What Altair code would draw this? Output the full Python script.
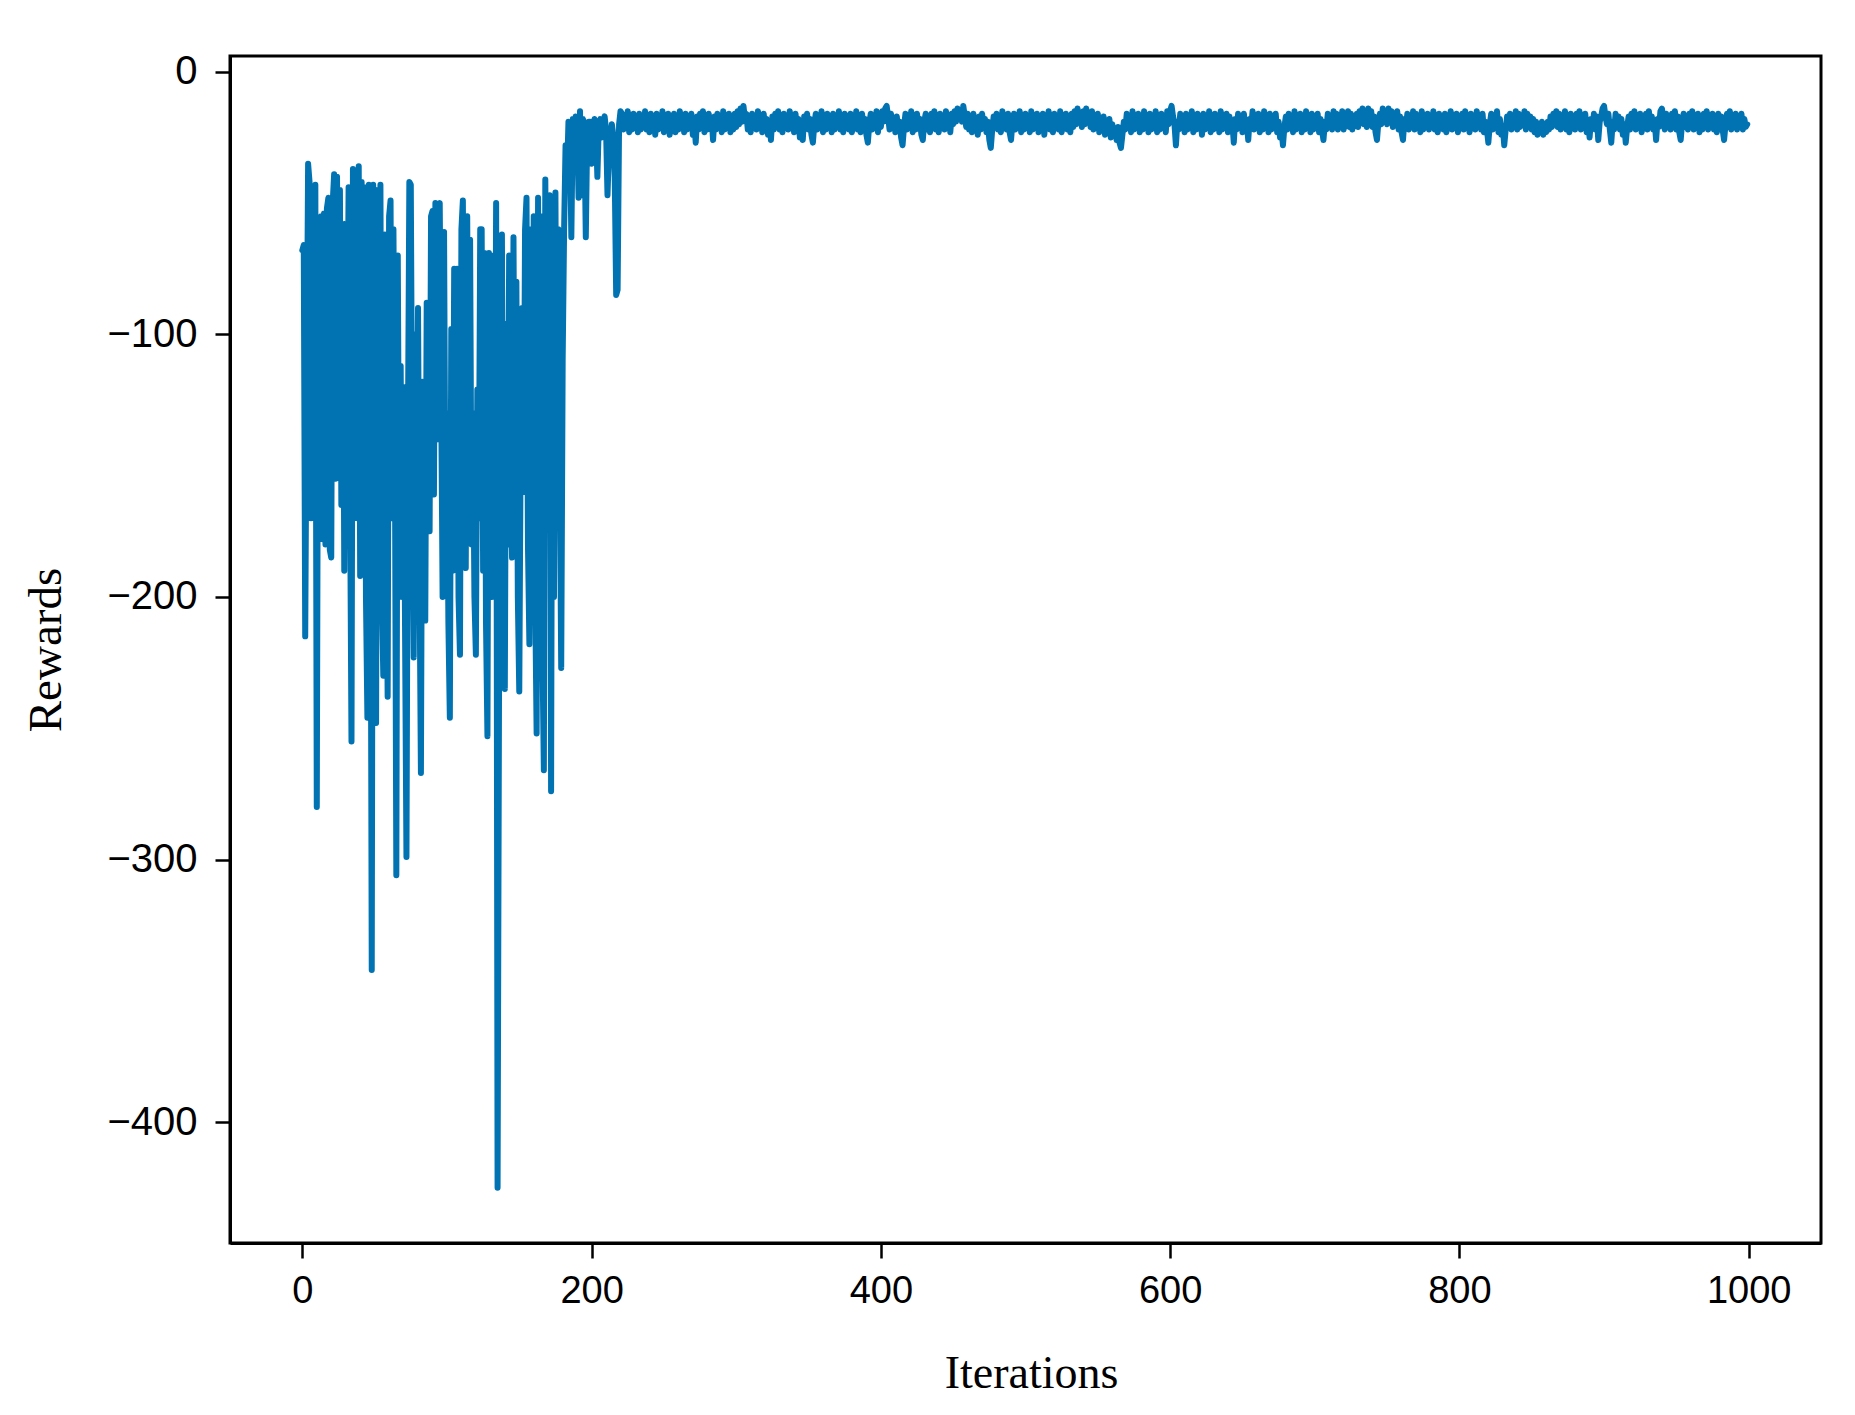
import altair as alt
import pandas as pd

# Rewards, iterations 0..220 (unstable phase)
rewards_0_220 = [
    -68, -66, -215, -120, -35, -42, -170, -60, -150, -43,
    -280, -81, -175, -55, -178, -54, -180, -52, -48, -182,
    -185, -50, -39, -155, -40, -140, -45, -165, -58, -190,
    -58, -120, -44, -160, -255, -37, -150, -38, -170, -36,
    -192, -42, -130, -44, -200, -246, -43, -120, -342, -43,
    -180, -248, -45, -160, -43, -200, -230, -62, -150, -238,
    -55, -49, -170, -60, -140, -306, -70, -180, -112, -200,
    -120, -210, -299, -140, -42, -43, -150, -223, -100, -170,
    -90, -190, -267, -118, -150, -209, -88, -160, -175, -55,
    -53, -161, -50, -140, -51, -50, -123, -200, -61, -180,
    -130, -210, -246, -98, -190, -75, -170, -75, -200, -222,
    -60, -49, -150, -189, -55, -160, -64, -180, -130, -200,
    -222, -121, -170, -60, -60, -190, -69, -210, -253, -69,
    -160, -200, -70, -180, -50, -425, -235, -140, -62, -200,
    -235, -96, -180, -70, -150, -185, -63, -170, -80, -200,
    -236, -137, -90, -160, -60, -48, -180, -218, -60, -150,
    -55, -200, -252, -48, -170, -55, -220, -266, -41, -130,
    -60, -47, -274, -50, -200, -46, -170, -60, -150, -227,
    -110, -60, -28, -40, -19, -22, -63, -18, -25, -17,
    -20, -48, -15, -47, -18, -20, -63, -22, -19, -19,
    -35, -22, -18, -21, -40, -20, -18, -25, -19, -17,
    -22, -47, -30, -27, -20, -24, -40, -85, -83, -20,
    -15,
]

# iterations 221..299
rewards_221_299 = [
    -16, -22, -17, -21, -15, -23, -18, -22, -16, -21,
    -17, -23, -16, -22, -18, -21, -15, -22, -17, -23,
    -16, -21, -18, -24, -16, -22, -17, -21, -15, -23,
    -18, -22, -16, -24, -17, -21, -16, -23, -18, -22,
    -15, -21, -17, -23, -16, -22, -18, -21, -16, -24,
    -19, -27, -17, -22, -16, -21, -15, -23, -17, -22,
    -16, -21, -18, -26, -17, -22, -16, -21, -18, -23,
    -15, -22, -17, -21, -16, -23, -18, -22, -16,
]

rewards_300_399 = [
    -21, -15, -20, -14, -19, -13, -18, -16, -22, -17,
    -23, -16, -21, -18, -22, -15, -21, -17, -23, -16,
    -22, -18, -24, -19, -26, -17, -22, -16, -21, -15,
    -22, -17, -23, -16, -21, -18, -22, -15, -21, -17,
    -23, -16, -22, -18, -25, -19, -26, -17, -21, -16,
    -22, -18, -24, -27, -20, -16, -22, -17, -21, -15,
    -23, -17, -22, -16, -21, -18, -23, -16, -22, -17,
    -21, -15, -22, -18, -23, -16, -21, -17, -22, -16,
    -23, -18, -21, -15, -22, -17, -23, -16, -21, -18,
    -24, -27, -20, -16, -22, -17, -21, -15, -23, -17,
]

rewards_400_499 = [
    -21, -15, -19, -14, -13, -17, -22, -16, -21, -18,
    -23, -17, -22, -19, -25, -28, -21, -16, -22, -17,
    -21, -15, -23, -17, -22, -16, -21, -18, -24, -26,
    -19, -16, -22, -17, -23, -16, -21, -15, -22, -18,
    -23, -16, -21, -17, -22, -15, -21, -18, -23, -16,
    -20, -15, -19, -14, -18, -15, -19, -13, -17, -21,
    -16, -22, -17, -23, -16, -21, -18, -24, -17, -22,
    -16, -21, -18, -23, -19, -26, -29, -22, -17, -21,
    -16, -22, -17, -23, -15, -21, -18, -22, -16, -23,
    -26, -19, -16, -22, -17, -21, -15, -23, -18, -22,
]

rewards_500_599 = [
    -16, -21, -17, -23, -15, -22, -18, -21, -16, -23,
    -17, -22, -16, -24, -18, -21, -15, -22, -17, -23,
    -16, -21, -18, -22, -15, -23, -17, -21, -16, -22,
    -18, -23, -16, -21, -15, -20, -14, -19, -16, -21,
    -15, -20, -14, -19, -16, -21, -15, -22, -17, -21,
    -16, -23, -18, -22, -17, -24, -19, -23, -18, -25,
    -20, -24, -22, -26, -21, -27, -29, -24, -19, -22,
    -16, -21, -17, -23, -15, -22, -18, -21, -16, -23,
    -17, -22, -15, -21, -18, -23, -16, -22, -17, -21,
    -15, -23, -18, -22, -16, -21, -17, -23, -15, -20,
]

rewards_600_699 = [
    -15, -13, -17, -20, -28, -19, -22, -16, -21, -17,
    -23, -16, -22, -18, -21, -15, -23, -17, -22, -16,
    -21, -18, -24, -16, -22, -17, -21, -15, -23, -18,
    -22, -16, -21, -17, -23, -15, -22, -18, -21, -16,
    -23, -17, -22, -19, -27, -18, -22, -16, -21, -17,
    -23, -16, -22, -19, -26, -18, -21, -15, -22, -17,
    -21, -16, -23, -18, -22, -15, -21, -17, -23, -16,
    -22, -18, -21, -16, -23, -19, -25, -22, -28, -21,
    -17, -22, -16, -21, -18, -23, -15, -22, -17, -21,
    -16, -23, -18, -22, -15, -21, -17, -23, -16, -22,
]

rewards_700_799 = [
    -17, -21, -16, -23, -18, -22, -26, -19, -22, -16,
    -21, -17, -22, -15, -20, -16, -22, -17, -21, -15,
    -22, -17, -20, -15, -21, -16, -22, -17, -20, -16,
    -21, -15, -19, -14, -20, -16, -21, -14, -18, -15,
    -21, -17, -23, -26, -19, -16, -20, -14, -19, -16,
    -20, -14, -18, -15, -21, -16, -20, -15, -22, -17,
    -23, -26, -18, -21, -16, -22, -17, -21, -15, -22,
    -16, -21, -17, -23, -15, -22, -18, -21, -16, -22,
    -17, -21, -15, -22, -18, -23, -16, -21, -17, -22,
    -16, -23, -18, -21, -15, -22, -17, -21, -16, -23,
]

rewards_800_899 = [
    -17, -21, -16, -22, -15, -21, -18, -23, -16, -21,
    -17, -22, -15, -21, -18, -22, -16, -23, -19, -22,
    -27, -20, -16, -22, -17, -21, -15, -23, -18, -24,
    -21, -28, -22, -17, -21, -16, -22, -17, -21, -15,
    -22, -16, -21, -17, -20, -15, -22, -16, -21, -17,
    -22, -18, -23, -19, -24, -20, -23, -19, -24, -20,
    -23, -19, -22, -17, -21, -16, -20, -15, -21, -16,
    -22, -17, -21, -15, -22, -18, -23, -16, -21, -17,
    -22, -16, -21, -15, -22, -18, -21, -16, -23, -19,
    -25, -18, -21, -16, -22, -17, -26, -19, -17, -14,
]

rewards_900_999 = [
    -13, -17, -20, -16, -22, -27, -19, -22, -16, -21,
    -17, -22, -18, -24, -20, -27, -21, -17, -22, -16,
    -21, -15, -22, -17, -21, -16, -23, -17, -21, -16,
    -22, -15, -21, -17, -22, -19, -26, -18, -21, -15,
    -14, -18, -22, -16, -21, -17, -22, -16, -21, -15,
    -22, -17, -23, -26, -19, -16, -21, -17, -22, -16,
    -21, -15, -22, -17, -21, -16, -23, -17, -22, -16,
    -21, -15, -22, -18, -21, -16, -22, -17, -23, -16,
    -21, -17, -22, -26, -20, -16, -21, -15, -22, -17,
    -21, -16, -22, -17, -21, -16, -22, -18, -21, -20,
]

x_ticks = [0, 200, 400, 600, 800, 1000]
y_ticks = [0, -100, -200, -300, -400]

rewards = (rewards_0_220 + rewards_221_299 + rewards_300_399 + rewards_400_499
           + rewards_500_599 + rewards_600_699 + rewards_700_799
           + rewards_800_899 + rewards_900_999)
iterations = list(range(len(rewards)))

df = pd.DataFrame({"Iterations": iterations, "Rewards": rewards})

W, H = 1591, 1187

chart = alt.Chart(df).mark_line(
    color="#0173B2", strokeWidth=6, strokeCap="round", strokeJoin="round"
).encode(
    x=alt.X("Iterations:Q",
            scale=alt.Scale(domain=[-50, 1050], nice=False, zero=False),
            axis=alt.Axis(values=x_ticks, format="d", title="Iterations", grid=False,
                          tickSize=15, tickWidth=2.5, tickColor="black",
                          domainColor="black", domainWidth=3,
                          labelFont="Liberation Sans", labelFontSize=38,
                          labelColor="black", labelPadding=14,
                          titleFont="Liberation Serif", titleFontSize=46,
                          titleFontWeight="normal", titleColor="black",
                          titleBaseline="alphabetic", titleX=801, titleY=144)),
    y=alt.Y("Rewards:Q",
            scale=alt.Scale(domain=[-446, 6], nice=False, zero=False),
            axis=alt.Axis(values=y_ticks, format="d", title="Rewards", grid=False,
                          tickSize=15, tickWidth=2.5, tickColor="black",
                          domainColor="black", domainWidth=3,
                          labelFont="Liberation Sans", labelFontSize=40,
                          labelColor="black", labelPadding=18,
                          titleFont="Liberation Serif", titleFontSize=47,
                          titleFontWeight="normal", titleColor="black",
                          titleBaseline="alphabetic", titleAngle=-90,
                          titleX=-170, titleY=H / 2)),
).properties(
    width=W, height=H,
    autosize=alt.AutoSizeParams(type="none"),
    padding={"left": 222, "top": 48, "right": 20, "bottom": 165},
).configure_view(
    stroke="black", strokeWidth=3
)

chart.save("out.html", embed_options={"renderer": "svg", "actions": False})
